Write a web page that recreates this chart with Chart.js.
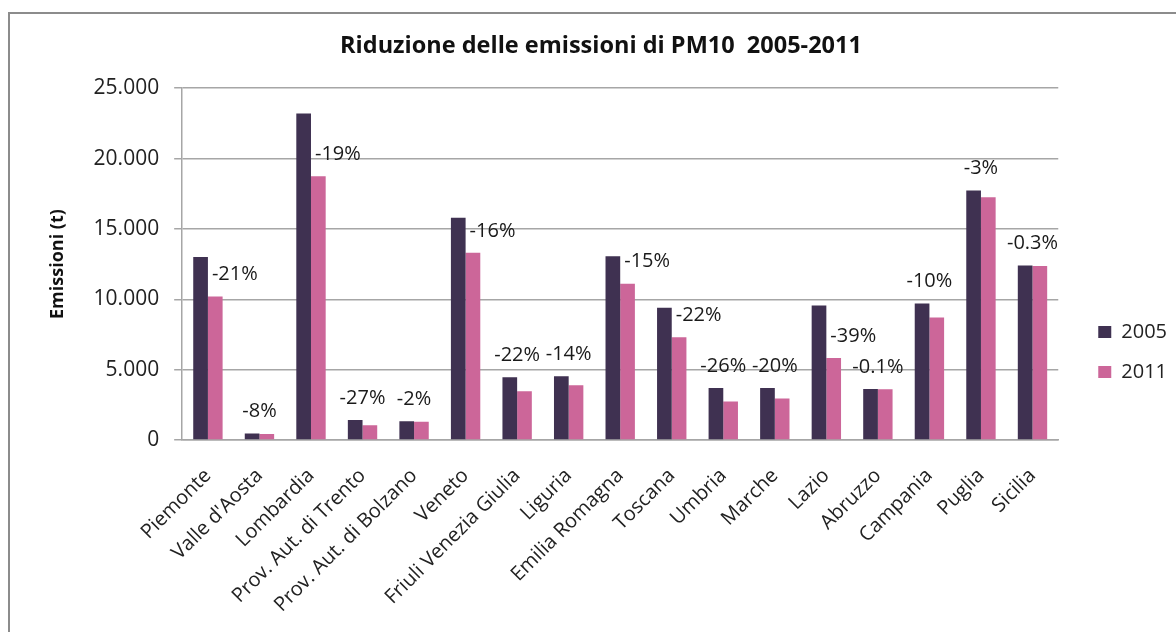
<!DOCTYPE html>
<html>
<head>
<meta charset="utf-8">
<script src="https://cdn.jsdelivr.net/npm/chart.js@4.4.1/dist/chart.umd.min.js"></script>
<style>
  html, body { margin: 0; padding: 0; background: #fff; overflow: hidden; }
  #frame { position: absolute; left: 8px; top: 12px; width: 1182px; height: 676px; border: 2px solid #8c8c8c; }
</style>
</head>
<body>
<div id="frame"><canvas id="pm10"></canvas></div>
<script>
const regioni = ['Piemonte', "Valle d'Aosta", 'Lombardia', 'Prov. Aut. di Trento', 'Prov. Aut. di Bolzano',
  'Veneto', 'Friuli Venezia Giulia', 'Liguria', 'Emilia Romagna', 'Toscana', 'Umbria', 'Marche',
  'Lazio', 'Abruzzo', 'Campania', 'Puglia', 'Sicilia'];
const emissioni2005 = [13000, 460, 23200, 1420, 1330, 15800, 4450, 4530, 13050, 9400, 3700, 3700, 9560, 3620, 9700, 17730, 12400];
const emissioni2011 = [10200, 425, 18750, 1040, 1300, 13300, 3470, 3890, 11100, 7300, 2730, 2950, 5830, 3610, 8700, 17250, 12360];
const riduzioni = ['-21%', '-8%', '-19%', '-27%', '-2%', '-16%', '-22%', '-14%', '-15%', '-22%', '-26%', '-20%', '-39%', '-0.1%', '-10%', '-3%', '-0.3%'];
// true = etichetta accanto alla barra 2011, false = centrata sopra la coppia
const etichettaLato = [true, false, true, false, false, true, false, false, true, true, false, false, true, false, false, false, false];
const yTicks = [0, 5000, 10000, 15000, 20000, 25000];

const fmt = v => String(v).replace(/\B(?=(\d{3})+(?!\d))/g, '.');

Chart.defaults.font.family = "'Open Sans', sans-serif";
Chart.defaults.color = '#222';

// etichette percentuali sopra le barre
const percentLabels = {
  id: 'percentLabels',
  afterDatasetsDraw(chart) {
    const ctx = chart.ctx;
    const a05 = chart.getDatasetMeta(0).data;
    const a11 = chart.getDatasetMeta(1).data;
    ctx.save();
    ctx.font = "20px 'Open Sans', sans-serif";
    ctx.fillStyle = '#1a1a1a';
    ctx.textBaseline = 'middle';
    riduzioni.forEach((txt, i) => {
      const a = a05[i], b = a11[i];
      if (etichettaLato[i]) {
        ctx.textAlign = 'left';
        ctx.fillText(txt, b.x - b.width / 2 + 4, b.y - 22);
      } else {
        ctx.textAlign = 'center';
        ctx.fillText(txt, (a.x + b.x) / 2, Math.min(a.y, b.y) - 22);
      }
    });
    ctx.restore();
  }
};

// legenda staccata dal grafico e centrata nella cornice, titolo centrato sulla cornice
const legendShift = {
  id: 'legendShift',
  afterLayout(chart) {
    const lg = chart.legend;
    const dx = chart.chartArea.right + 20 - lg.left;
    lg.left += dx;
    lg.right += dx;
    lg.top = 0;
    lg.bottom = chart.height;
    if (chart.titleBlock) {
      chart.titleBlock.left = 0;
      chart.titleBlock.right = chart.width;
    }
  }
};

new Chart(document.getElementById('pm10'), {
  type: 'bar',
  data: {
    labels: regioni,
    datasets: [
      { label: '2005', data: emissioni2005, backgroundColor: '#3f3151' },
      { label: '2011', data: emissioni2011, backgroundColor: '#cc6699' }
    ]
  },
  options: {
    responsive: true,
    maintainAspectRatio: false,
    animation: false,
    layout: { padding: { left: 0, right: 35, top: 0, bottom: 49 } },
    datasets: { bar: { categoryPercentage: 0.57, barPercentage: 1 } },
    plugins: {
      title: {
        display: true,
        text: 'Riduzione delle emissioni di PM10  2005-2011',
        font: { size: 23.5, weight: 'bold' },
        color: '#111',
        padding: { top: 18, bottom: 28 }
      },
      legend: {
        position: 'right',
        labels: { boxWidth: 13, boxHeight: 12, padding: 20, font: { size: 20 }, color: '#222' }
      },
      tooltip: { enabled: false }
    },
    scales: {
      x: {
        grid: { display: false, drawTicks: false },
        border: { color: '#a6a6a6', width: 1.5 },
        ticks: { minRotation: 45, maxRotation: 45, autoSkip: false, font: { size: 20 }, padding: 24 }
      },
      y: {
        min: 0,
        max: 25000,
        afterBuildTicks: s => { s.ticks = yTicks.map(v => ({ value: v })); },
        grid: { color: '#a6a6a6', lineWidth: 1.5, tickLength: 8 },
        border: { color: '#a6a6a6', width: 1.5 },
        ticks: { padding: 15, font: { size: 21 }, callback: v => fmt(v) },
        title: {
          display: true,
          text: 'Emissioni (t)',
          font: { size: 18, weight: 'bold' },
          color: '#111',
          padding: { top: 37, bottom: 10 }
        }
      }
    }
  },
  plugins: [percentLabels, legendShift]
});
</script>
</body>
</html>
